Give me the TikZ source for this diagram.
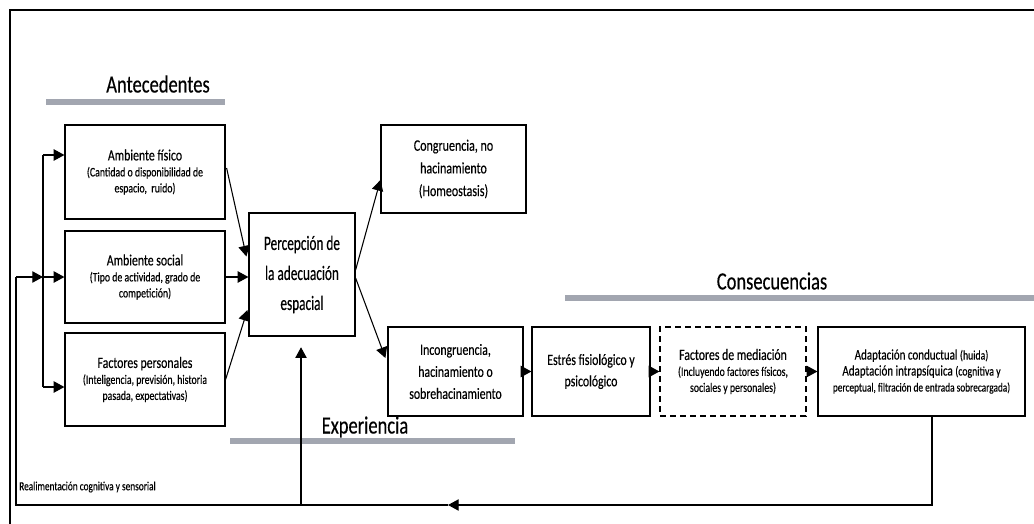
\documentclass[tikz,border=0pt]{standalone}
\usepackage{fontspec}
\setmainfont{Carlito}[FakeStretch=0.75,FakeBold=0.35]
\newfontfamily\narrowfont{Carlito}[FakeStretch=0.65,FakeBold=0.35]
\usetikzlibrary{arrows.meta,calc}
\definecolor{bargray}{RGB}{162,166,176}
\newcommand\ttlsz{\fontsize{11.8}{15.75}\selectfont}
\newcommand\subsz{\fontsize{9.8}{15.75}\selectfont}
\begin{document}
\begin{tikzpicture}[x=0.75pt,y=-0.75pt,
  box/.style={draw, line width=0.9pt, inner sep=0pt, align=center},
  arr/.style={-{Triangle[length=8pt,width=8.5pt]}, line width=0.8pt},
  bar/.style={line width=4.5pt, draw=bargray},
  heading/.style={font=\fontsize{18.5}{22}\selectfont},
  line/.style={line width=0.8pt}]
\useasboundingbox (0,0) rectangle (1034,524);

% outer frame (top and left edges)
\draw[line width=1.5pt] (10,524) -- (10,10) -- (1034,10);

% section headings with their bars
\node[heading] (hAnt) at (158,84) {Antecedentes};
\draw[bar] (46,102) -- (225,102);
\node[heading] (hCons) at (772,281) {Consecuencias};
\draw[bar] (565,298) -- (1034,298);
\draw[bar] (230,441) -- (515,441);
\node[heading] (hExp) at (365,427) {Experiencia};

% antecedents
\node[box, minimum width=120pt, minimum height=70.5pt] (fis) at (145,172)
  {\ttlsz Ambiente físico\\ \subsz (Cantidad o disponibilidad de\\ \subsz espacio,\ \ ruido)};
\node[box, minimum width=120pt, minimum height=69pt] (soc) at (145,277)
  {\ttlsz Ambiente social\\ \subsz (Tipo de actividad, grado de\\ \subsz competición)};
\node[box, minimum width=120pt, minimum height=69.75pt] (per) at (145,379.5)
  {\ttlsz Factores personales\\ \subsz (Inteligencia, previsión, historia\\ \subsz pasada, expectativas)};

% perception
\node[box, minimum width=79.5pt, minimum height=92.25pt,
      font=\narrowfont\fontsize{15.3}{22.5}\selectfont] (perc) at (302,274.5)
  {Percepción de\\ la adecuación\\ espacial};

% outcomes
\node[box, minimum width=108.75pt, minimum height=66pt,
      font=\fontsize{12}{17}\selectfont] (cong) at (453.5,169)
  {Congruencia, no\\ hacinamiento\\ (Homeostasis)};
\node[box, minimum width=101.25pt, minimum height=66.75pt,
      font=\fontsize{11.8}{16.5}\selectfont] (inc) at (455.5,371.5)
  {Incongruencia,\\ hacinamiento o\\ sobrehacinamiento};
\node[box, minimum width=88.5pt, minimum height=66.75pt,
      font=\fontsize{11.8}{16}\selectfont] (est) at (591,371.5)
  {Estrés fisiológico y\\ psicológico};
\node[box, dash pattern=on 4.5pt off 3pt, minimum width=109.5pt, minimum height=66.75pt] (med) at (733,371.5)
  {\ttlsz Factores de mediación\\ \subsz (Incluyendo factores físicos,\\ \subsz sociales y personales)};
\node[box, minimum width=155.25pt, minimum height=66.75pt] (adap) at (921.5,371.5)
  {\fontsize{11}{16.5}\selectfont Adaptación conductual {\subsz(huida)}\\
   \fontsize{11}{16.5}\selectfont Adaptación intrapsíquica {\subsz(cognitiva y}\\
   \fontsize{9.3}{16.5}\selectfont perceptual, filtración de entrada sobrecargada)};

% arrows into the perception box
\draw[arr] ($(fis.east)+(1,-4)$) -- ($(perc.west)+(-2,-18)$);
\draw[arr] (soc.east) -- (soc.east -| perc.west);
\draw[arr] (per.east) -- ($(perc.west)+(-1,35.5)$);

% arrows out of the perception box
\draw[arr] ($(perc.east)+(0,-4.5)$) -- ($(cong.west)+(0,11)$);
\draw[arr] ($(perc.east)+(0,3.5)$) -- ($(inc.west)+(-2,-13.5)$);

% chain of consequences
\draw[arr] (inc.east) -- (est.west);
\draw[arr] (est.east) -- (med.west);
\draw[arr] (med.east) -- (adap.west);

% feedback loop
\coordinate (fbR) at (932,505);
\coordinate (fbMid) at (448,505);
\coordinate (fbL) at (16,505);
\coordinate (fbUp) at (16,277);
\coordinate (trunk) at (43,277);
\coordinate (tTop) at (43,155);
\coordinate (tBot) at (43,387);
\coordinate (expB) at (301,505);

\draw[arr] (fbR |- adap.south) -- (fbR) -- (fbMid);
\draw[line] (fbMid) -- (fbL) -- (fbUp);
\draw[arr] (fbUp) -- (trunk);
\draw[line] (tTop) -- (tBot);
\draw[arr] (tTop) -- (tTop -| fis.west);
\draw[arr] (trunk) -- (trunk -| soc.west);
\draw[arr] (tBot) -- (tBot -| per.west);

% experience feeds perception
\draw[arr, shorten >=8pt] (expB) -- (expB |- perc.south);

\node[anchor=west, font=\fontsize{9.3}{11}\selectfont, inner sep=0pt] (fbLabel) at (19,487)
  {Realimentación cognitiva y sensorial};
\end{tikzpicture}
\end{document}
